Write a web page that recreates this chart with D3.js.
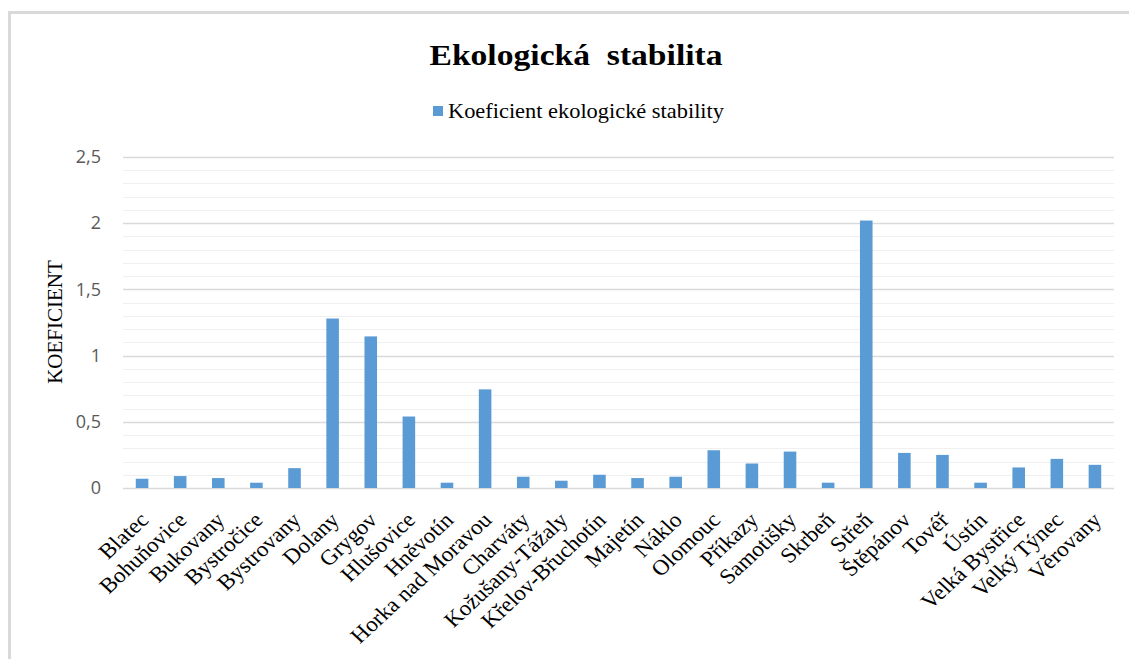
<!DOCTYPE html>
<html>
<head>
<meta charset="utf-8">
<script src="https://cdn.jsdelivr.net/npm/d3@7"></script>
<style>
  body { margin: 0; background: #fff; }
  svg { display: block; }
</style>
</head>
<body>
<div id="chart"></div>
<script>
// data
var obce = ["Blatec", "Bohuňovice", "Bukovany", "Bystročice", "Bystrovany", "Dolany", "Grygov",
  "Hlušovice", "Hněvotín", "Horka nad Moravou", "Charváty", "Kožušany-Tážaly", "Křelov-Břuchotín",
  "Majetín", "Náklo", "Olomouc", "Příkazy", "Samotišky", "Skrbeň", "Střeň", "Štěpánov", "Tovéř",
  "Ústín", "Velká Bystřice", "Velký Týnec", "Věrovany"];
var koeficient = [0.07, 0.09, 0.075, 0.04, 0.15, 1.28, 1.145, 0.54, 0.04, 0.745, 0.085, 0.055, 0.10,
  0.075, 0.085, 0.285, 0.185, 0.275, 0.04, 2.02, 0.265, 0.25, 0.04, 0.155, 0.22, 0.175];
var yTicks = [0, 0.5, 1, 1.5, 2, 2.5];
var seriesName = "Koeficient ekologické stability";

var W = 1129, H = 659;
var margin = {top: 157, right: 15, bottom: 171, left: 123};
var width = W - margin.left - margin.right,
    height = H - margin.top - margin.bottom;
var serif = "'Liberation Serif', 'Times New Roman', serif";

var svg = d3.select("#chart").append("svg")
  .attr("width", W)
  .attr("height", H);

// chart frame
svg.append("path")
  .attr("d", "M9.5," + H + " V12.5 H" + W)
  .attr("fill", "none")
  .attr("stroke", "#d9d9d9")
  .attr("stroke-width", 3);

var g = svg.append("g")
  .attr("transform", "translate(" + margin.left + "," + margin.top + ")");

var x = d3.scaleBand()
  .domain(obce)
  .range([0, width])
  .paddingInner(0.67)
  .paddingOuter(0.335);

var y = d3.scaleLinear()
  .domain([0, 2.5])
  .range([height, 0]);

// gridlines every 0.1, stronger every 0.5
g.append("g")
  .selectAll("line")
  .data(d3.range(0, 26).map(function(i) { return i / 10; }))
  .join("line")
    .attr("x1", 0)
    .attr("x2", width)
    .attr("y1", function(d) { return Math.round(y(d)) + 0.5; })
    .attr("y2", function(d) { return Math.round(y(d)) + 0.5; })
    .attr("stroke", function(d) { return Math.abs(d * 2 - Math.round(d * 2)) < 1e-6 ? "#d9d9d9" : "#f0f0f0"; })
    .attr("stroke-width", function(d) { return Math.abs(d * 2 - Math.round(d * 2)) < 1e-6 ? 1.5 : 1; });

// y axis
var yAxis = g.append("g")
  .call(d3.axisLeft(y).tickValues(yTicks).tickSize(0).tickPadding(22)
    .tickFormat(function(d) { return String(d).replace(".", ","); }));
yAxis.select(".domain").remove();
yAxis.selectAll("text")
  .style("font-family", "'Open Sans', 'Liberation Sans', sans-serif")
  .style("font-size", "18px")
  .attr("fill", "#595959");

// bars
g.append("g")
  .selectAll("rect")
  .data(koeficient)
  .join("rect")
    .attr("x", function(d, i) { return x(obce[i]); })
    .attr("y", function(d) { return y(d); })
    .attr("width", x.bandwidth())
    .attr("height", function(d) { return y(0) - y(d); })
    .attr("fill", "#5b9bd5");

// x axis labels (slightly stretched horizontally like the reference)
var xAxis = g.append("g")
  .attr("transform", "translate(0," + height + ")")
  .call(d3.axisBottom(x).tickSize(0).tickPadding(0));
xAxis.select(".domain").remove();
xAxis.selectAll("text")
  .style("font-family", serif)
  .style("font-size", "21.5px")
  .attr("fill", "#000")
  .attr("text-anchor", "end")
  .attr("dy", "0.35em")
  .attr("transform", "translate(2,28) scale(1.08,1) rotate(-45)");

// axis title
svg.append("text")
  .attr("transform", "translate(62," + (margin.top + 165) + ") rotate(-90)")
  .attr("text-anchor", "middle")
  .style("font-family", serif)
  .style("font-size", "21px")
  .text("KOEFICIENT");

// title (reference text is a bit wider than tall, so stretch it)
svg.append("text")
  .attr("transform", "translate(576,65) scale(1.12,1)")
  .attr("text-anchor", "middle")
  .style("font-family", serif)
  .style("font-size", "30px")
  .style("font-weight", "bold")
  .style("white-space", "pre")
  .text("Ekologická  stabilita");

// legend
var legend = svg.append("g").attr("transform", "translate(433,111)");
legend.append("rect")
  .attr("x", 0).attr("y", -5)
  .attr("width", 10).attr("height", 10)
  .attr("fill", "#5b9bd5");
legend.append("text")
  .attr("transform", "translate(15,0) scale(1.12,1)")
  .attr("dy", "0.35em")
  .style("font-family", serif)
  .style("font-size", "20px")
  .text(seriesName);
</script>
</body>
</html>
